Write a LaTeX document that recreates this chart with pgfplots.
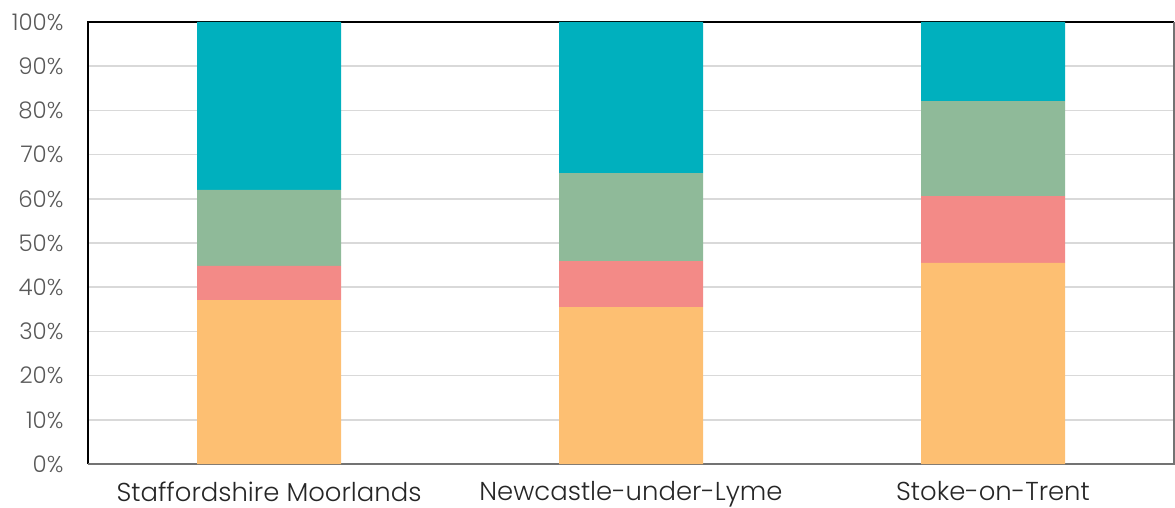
\documentclass[border=0pt]{standalone}
\usepackage{pgfplots}
\pgfplotsset{compat=1.18}
\usepackage{fontspec}
\setmainfont{Poppins}[UprightFont=* Light]
\definecolor{cTeal}{HTML}{00B0BE}
\definecolor{cGreen}{HTML}{8FBA99}
\definecolor{cRed}{HTML}{F38A87}
\definecolor{cOrange}{HTML}{FDBF72}
\definecolor{cGrid}{HTML}{D9D9D9}
\definecolor{cText}{HTML}{595959}
\begin{document}
\begin{tikzpicture}
\path[use as bounding box] (0,0) rectangle (1175bp,508bp);
\begin{axis}[
  at={(88bp,44bp)}, anchor=south west,
  scale only axis, width=1086bp, height=442bp,
  xmin=-0.5, xmax=2.5, ymin=0, ymax=100,
  ybar stacked, bar width=144bp,
  axis line style={draw=none},
  ytick={0,10,...,100},
  yticklabel={\pgfmathprintnumber{\tick}\%},
  yticklabel style={font=\fontsize{23}{26}\selectfont, text=cText, xshift=-21bp},
  xtick={0,1,2},
  xticklabels={Staffordshire Moorlands, Newcastle-under-Lyme, Stoke-on-Trent},
  xticklabel style={font=\fontsize{26}{29}\selectfont, text=black!85, yshift=-14bp},
  major tick length=0pt,
  ymajorgrids, grid style={cGrid, line width=1.5bp},
  /pgf/number format/assume math mode=true,
  clip=false,
]
\addplot[fill=cOrange, draw=none] coordinates {(0,37.1) (1,35.5) (2,45.5)};
\addplot[fill=cRed, draw=none] coordinates {(0,7.7) (1,10.4) (2,15.1)};
\addplot[fill=cGreen, draw=none] coordinates {(0,17.2) (1,19.9) (2,21.5)};
\addplot[fill=cTeal, draw=none] coordinates {(0,38.0) (1,34.2) (2,17.9)};
\draw[black!55, line width=1.5bp] (rel axis cs:0,0) -- (rel axis cs:1,0) -- (rel axis cs:1,1);
\draw[black, line width=2.5bp] (rel axis cs:0,0) -- (rel axis cs:0,1) -- (rel axis cs:1,1);
\end{axis}
\end{tikzpicture}
\end{document}
